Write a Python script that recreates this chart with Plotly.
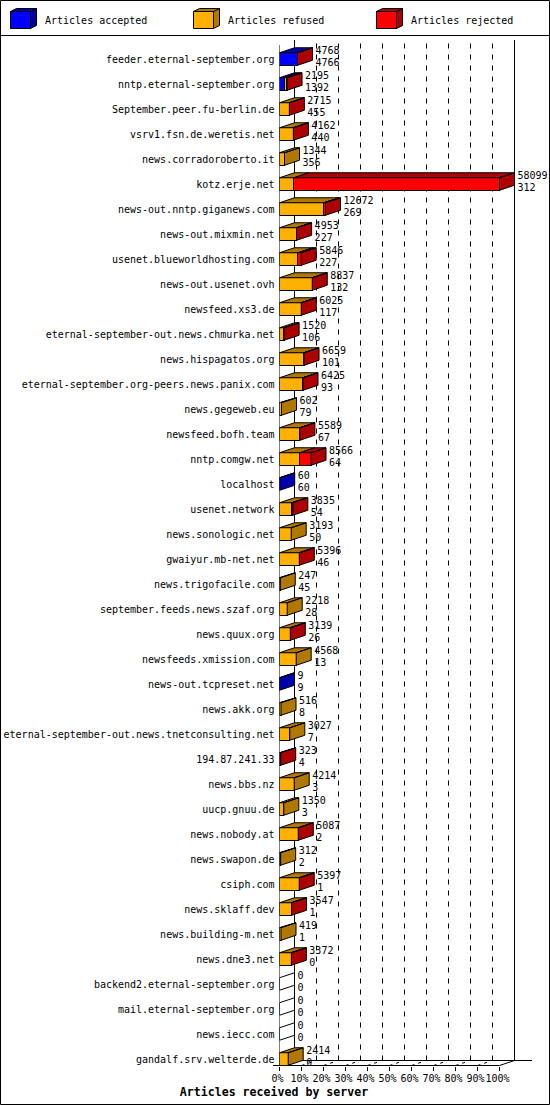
import plotly.graph_objects as go

servers = [
    "feeder.eternal-september.org", "nntp.eternal-september.org", "September.peer.fu-berlin.de",
    "vsrv1.fsn.de.weretis.net", "news.corradoroberto.it", "kotz.erje.net", "news-out.nntp.giganews.com",
    "news-out.mixmin.net", "usenet.blueworldhosting.com", "news-out.usenet.ovh", "newsfeed.xs3.de",
    "eternal-september-out.news.chmurka.net", "news.hispagatos.org", "eternal-september.org-peers.news.panix.com",
    "news.gegeweb.eu", "newsfeed.bofh.team", "nntp.comgw.net", "localhost", "usenet.network",
    "news.sonologic.net", "gwaiyur.mb-net.net", "news.trigofacile.com", "september.feeds.news.szaf.org",
    "news.quux.org", "newsfeeds.xmission.com", "news-out.tcpreset.net", "news.akk.org",
    "eternal-september-out.news.tnetconsulting.net", "194.87.241.33", "news.bbs.nz", "uucp.gnuu.de",
    "news.nobody.at", "news.swapon.de", "csiph.com", "news.sklaff.dev", "news.building-m.net", "news.dne3.net",
    "backend2.eternal-september.org", "mail.eternal-september.org", "news.iecc.com", "gandalf.srv.welterde.de",
]
offered = [
    4768, 2195, 2715, 4162, 1344, 58099, 12672, 4953, 5846, 8837, 6025, 1520, 6659, 6425, 602, 5589, 8566, 60,
    3835, 3193, 5396, 247, 2218, 3139, 4568, 9, 516, 3027, 323, 4214, 1350, 5087, 312, 5397, 3547, 419, 3372,
    0, 0, 0, 2414,
]
accepted = [
    4766, 1392, 455, 440, 356, 312, 269, 227, 227, 132, 117, 106, 101, 93, 79, 67, 64, 60,
    54, 50, 46, 45, 28, 26, 13, 9, 8, 7, 4, 3, 3, 2, 2, 1, 1, 1, 0,
    0, 0, 0, 0,
]
# widths of the orange and red parts
refused = [
    0, 500, 2560, 3620, 1320, 3780, 11700, 4490, 4830, 8630, 5730, 1140, 6420, 6150, 530, 5360, 5360, 0,
    3170, 3090, 5200, 200, 2030, 2830, 4410, 0, 400, 2720, 0, 3880, 1140, 4940, 310, 5200, 3090, 400, 3090,
    0, 0, 0, 2300,
]
rejected = [
    2, 100, 40, 40, 0, 54319, 450, 30, 900, 20, 20, 80, 60, 60, 0, 30, 2960, 0,
    350, 0, 30, 0, 0, 20, 0, 0, 0, 0, 319, 0, 0, 20, 0, 10, 100, 0, 40,
    0, 0, 0, 0,
]
percent_ticks = [0, 10, 20, 30, 40, 50, 60, 70, 80, 90, 100]

W, H = 550, 1105
FONT = "DejaVu Sans Mono"
MAX_VAL = 58099
X0, X100 = 279.5, 499.5
Y_FIRST, ROW = 59.0, 25.0
Y_TOP, Y_BOTTOM = 36.0, 1065.5
VAL_PER_PX = MAX_VAL / (X100 - X0)
DX = 15 * VAL_PER_PX
DY = 5 / ROW
HALF = 0.25

COLORS = {
    "accepted": ("#0000ff", "#0000ad"),
    "refused": ("#ffb000", "#b07800"),
    "rejected": ("#ff0000", "#ad0000"),
}


def px(x):
    return x / W


def py(y):
    return 1 - y / H


def poly(points):
    xs = [p[0] for p in points] + [points[0][0], None]
    ys = [p[1] for p in points] + [points[0][1], None]
    return xs, ys


# blue slices thinner than the outlines do not show up in the picture
shown_accepted = []
for a, f, r in zip(accepted, refused, rejected):
    shown_accepted.append(a if a / VAL_PER_PX >= 2 or f + r == 0 else 0)

rows = list(range(len(servers)))
fig = go.Figure()

for name, values in [("accepted", shown_accepted), ("refused", refused), ("rejected", rejected)]:
    fig.add_trace(go.Bar(
        y=rows,
        x=[v if v else None for v in values],
        orientation="h",
        width=2 * HALF,
        marker=dict(color=COLORS[name][0], line=dict(color="black", width=1)),
        showlegend=False,
        hoverinfo="skip",
    ))

faces = {k: ([], []) for k in COLORS}
empty = ([], [])
totals = []
for i in rows:
    top, bottom = i - HALF, i + HALF
    start = 0
    last = None
    for name, v in [("accepted", shown_accepted[i]), ("refused", refused[i]), ("rejected", rejected[i])]:
        if v:
            xs, ys = poly([(start, top), (start + DX, top - DY), (start + v + DX, top - DY), (start + v, top)])
            faces[name][0].extend(xs)
            faces[name][1].extend(ys)
            start += v
            last = name
    totals.append(start)
    xs, ys = poly([(start, top), (start + DX, top - DY), (start + DX, bottom - DY), (start, bottom)])
    target = faces[last] if last else empty
    target[0].extend(xs)
    target[1].extend(ys)

for name, (xs, ys) in faces.items():
    fig.add_trace(go.Scatter(
        x=xs, y=ys, mode="lines", fill="toself", fillcolor=COLORS[name][1],
        line=dict(color="black", width=1), showlegend=False, hoverinfo="skip",
    ))
fig.add_trace(go.Scatter(
    x=empty[0], y=empty[1], mode="lines",
    line=dict(color="black", width=1), showlegend=False, hoverinfo="skip",
))

label_x = [t + DX + 3 * VAL_PER_PX for t in totals]
for labels, shift in [(offered, -8 / ROW), (accepted, 4 / ROW)]:
    fig.add_trace(go.Scatter(
        x=label_x,
        y=[i + shift for i in rows],
        mode="text",
        text=[str(v) for v in labels],
        textposition="middle right",
        textfont=dict(family=FONT, size=10, color="black"),
        cliponaxis=False,
        showlegend=False,
        hoverinfo="skip",
    ))

shapes = []


def line(x0, y0, x1, y1, xref="paper", yref="paper", dash="solid"):
    shapes.append(dict(type="line", xref=xref, yref=yref, x0=x0, y0=y0, x1=x1, y1=y1, layer="below",
                       line=dict(color="black", width=1, dash=dash)))


for pct in percent_ticks[1:-1]:
    v = pct / 100 * MAX_VAL
    line(v + DX, py(1060.5), v + DX, py(40), xref="x", dash="5px,6px")
    line(v, py(1065.5), v + DX, py(1060.5), xref="x", dash="3px,4px,3px,9px")

line(0, py(1065.5), 0, py(45), xref="x")
line(DX, py(1060.5), DX, py(40), xref="x")
line(MAX_VAL + DX, py(1060.5), MAX_VAL + DX, py(40), xref="x")
line(MAX_VAL, py(1065.5), MAX_VAL + DX, py(1060.5), xref="x")
line(px(273), py(1065.5), px(X100), py(1065.5))
line(px(X0 + 15), py(1060.5), px(532), py(1060.5))
line(px(0), py(35.5), px(W), py(35.5))
shapes.append(dict(type="rect", xref="paper", yref="paper", x0=px(0.5), y0=py(0.5), x1=px(W - 0.5), y1=py(H - 0.5),
                   line=dict(color="black", width=1), fillcolor="rgba(0,0,0,0)"))

# legend cubes
annotations = []
for (name, title), left in zip([("accepted", "Articles accepted"), ("refused", "Articles refused"),
                                ("rejected", "Articles rejected")], [10.5, 193.5, 376.5]):
    front, dark = COLORS[name]
    right = left + 20
    top, bottom = 11.5, 28.5
    side = f"M{px(right)},{py(top)} L{px(right + 6)},{py(top - 3)} L{px(right + 6)},{py(bottom - 3)} L{px(right)},{py(bottom)} Z"
    lid = f"M{px(left)},{py(top)} L{px(left + 6)},{py(top - 3)} L{px(right + 6)},{py(top - 3)} L{px(right)},{py(top)} Z"
    for path, color in [(side, dark), (lid, dark)]:
        shapes.append(dict(type="path", xref="paper", yref="paper", path=path, fillcolor=color,
                           line=dict(color="black", width=1)))
    shapes.append(dict(type="rect", xref="paper", yref="paper", x0=px(left), y0=py(top), x1=px(right), y1=py(bottom),
                       fillcolor=front, line=dict(color="black", width=1)))
    annotations.append(dict(text=title, xref="paper", yref="paper", x=px(left + 32), y=py(20.5), xanchor="left",
                            yanchor="middle", showarrow=False, font=dict(family=FONT, size=10, color="black")))

fig.update_layout(
    width=W,
    height=H,
    autosize=False,
    margin=dict(l=0, r=0, t=0, b=0),
    paper_bgcolor="white",
    plot_bgcolor="white",
    barmode="stack",
    showlegend=False,
    shapes=shapes,
    annotations=annotations,
    title=dict(text="Articles received by server", x=274 / W, xanchor="center", y=py(1092), yanchor="middle",
               font=dict(family=FONT, size=11.6, color="black", weight="bold")),
    xaxis=dict(
        domain=[px(X0), 1],
        range=[0, (W - X0) * VAL_PER_PX],
        automargin=False,
        tickmode="array",
        tickvals=[p / 100 * MAX_VAL for p in percent_ticks],
        ticktext=[f"{p}%" for p in percent_ticks],
        ticks="outside",
        ticklen=4,
        tickcolor="black",
        tickwidth=1,
        tickangle=0,
        ticklabelshift=-2,
        ticklabelstandoff=-1,
        tickfont=dict(family=FONT, size=10, color="black"),
        showgrid=False,
        zeroline=False,
        showline=False,
    ),
    yaxis=dict(
        domain=[py(Y_BOTTOM), py(Y_TOP)],
        range=[(Y_BOTTOM - Y_FIRST) / ROW, (Y_TOP - Y_FIRST) / ROW],
        automargin=False,
        tickmode="array",
        tickvals=rows,
        ticktext=servers,
        ticks="",
        ticklabelstandoff=4,
        tickfont=dict(family=FONT, size=10, color="black"),
        showgrid=False,
        zeroline=False,
        showline=False,
    ),
)

fig.write_html("out.html", config={"displayModeBar": False},
               post_script="document.body.style.margin = '0';")
